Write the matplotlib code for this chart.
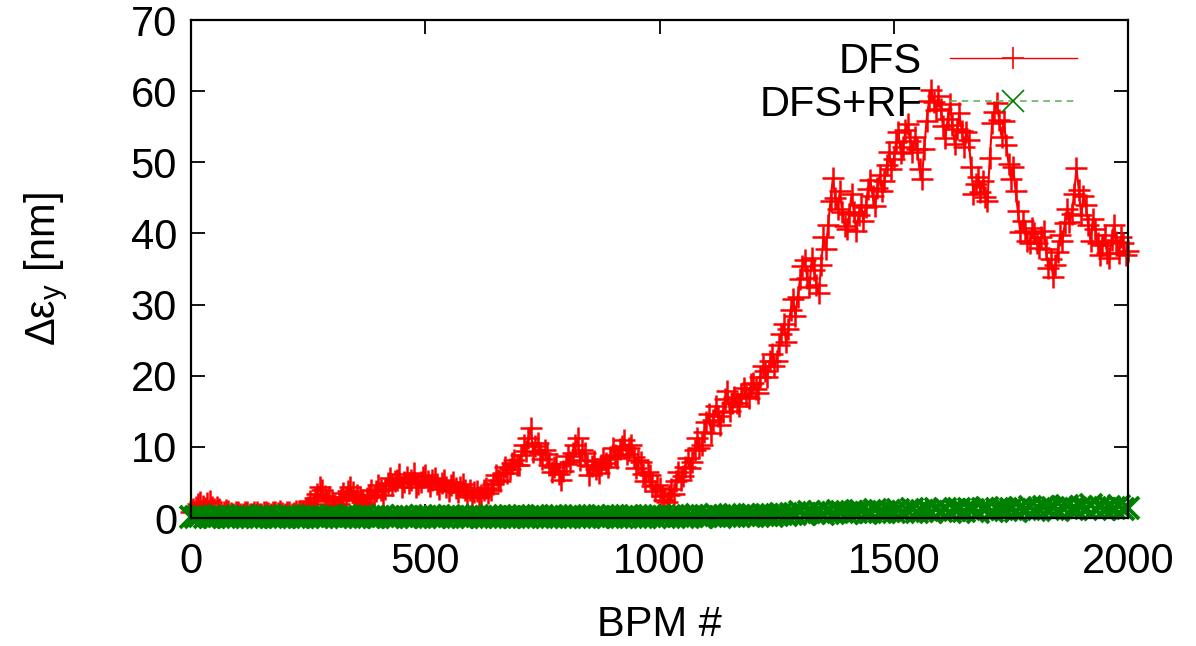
import numpy as np
import matplotlib
matplotlib.use("Agg")
import matplotlib.pyplot as plt

plt.rcParams['font.family'] = ['Liberation Sans', 'DejaVu Sans']
plt.rcParams['mathtext.fontset'] = 'custom'
plt.rcParams['mathtext.rm'] = 'Liberation Sans'
plt.rcParams['mathtext.it'] = 'Liberation Sans:italic'

# BPM index for DFS (every 5th BPM) and DFS+RF (every 10th BPM)
bpm_dfs = np.arange(0, 2001, 5)
bpm_rf = np.arange(0, 2001, 10)

dfs = [
    0.8, 1.2, 1.5, 2.0, 2.3, 1.7, 1.4, 2.1, 2.4, 1.6, 1.2, 1.5, 1.3, 0.9, 0.8, 1.1, 1.0, 0.7, 0.6, 0.9,
    0.8, 0.6, 0.5, 0.8, 0.9, 0.6, 0.6, 0.9, 0.8, 0.6, 0.5, 0.8, 0.9, 0.7, 0.6, 0.9, 0.8, 0.7, 1.0, 0.7,
    0.6, 0.8, 0.9, 0.6, 0.7, 1.0, 1.0, 0.7, 0.8, 1.2, 1.6, 2.4, 1.9, 2.8, 3.4, 4.3, 4.0, 3.1, 2.6, 3.0,
    2.4, 1.8, 1.3, 2.0, 2.7, 3.5, 2.9, 3.8, 4.4, 3.6, 2.6, 3.3, 2.9, 2.2, 1.9, 2.8, 3.3, 4.0, 3.0, 3.8,
    4.6, 3.9, 3.2, 4.1, 4.9, 5.6, 4.6, 5.2, 5.4, 6.2, 4.3, 5.1, 5.8, 4.9, 5.4, 6.3, 4.3, 4.8, 5.0, 5.7,
    6.0, 5.2, 4.5, 5.3, 5.6, 4.8, 4.1, 4.9, 5.4, 4.4, 3.8, 4.6, 5.1, 4.2, 3.6, 4.3, 4.8, 3.9, 3.3, 3.9,
    3.0, 3.6, 3.8, 2.9, 3.3, 4.0, 4.2, 3.5, 3.9, 4.8, 6.0, 5.4, 5.2, 6.3, 7.2, 6.3, 6.9, 7.8, 8.2, 7.4,
    7.5, 8.8, 10.2, 9.4, 11.3, 12.6, 9.3, 10.1, 10.6, 9.2, 8.3, 9.6, 9.0, 7.5, 6.4, 7.2, 7.6, 6.2, 5.4, 6.6,
    7.6, 8.7, 7.9, 9.1, 10.3, 11.2, 8.2, 9.6, 9.2, 7.4, 6.0, 7.3, 8.0, 6.9, 6.3, 7.5, 8.3, 7.8, 7.2, 8.6,
    9.8, 8.9, 8.5, 9.7, 10.1, 11.0, 9.0, 9.8, 10.3, 8.6, 7.0, 8.1, 7.9, 6.2, 5.2, 6.4, 6.0, 4.5, 3.8, 4.6,
    4.2, 3.1, 2.5, 2.2, 3.2, 4.1, 3.4, 5.2, 6.4, 5.4, 5.9, 7.1, 8.4, 7.0, 7.9, 9.5, 11.2, 9.8, 10.3, 12.1,
    13.5, 14.6, 12.0, 13.8, 15.8, 14.3, 13.1, 14.9, 16.7, 17.8, 15.0, 16.2, 17.0, 16.1, 15.7, 17.4, 18.3, 17.1, 16.9, 18.9,
    19.0, 18.2, 17.6, 19.8, 21.3, 20.6, 19.8, 22.0, 23.1, 21.4, 22.0, 24.3, 25.8, 27.2, 24.8, 26.6, 29.3, 30.8, 28.4, 31.1,
    33.6, 35.4, 36.2, 33.8, 32.4, 36.5, 34.9, 32.8, 31.6, 35.6, 39.5, 37.8, 41.2, 44.6, 47.8, 45.0, 43.5, 45.9, 43.0, 41.1,
    40.6, 42.8, 45.5, 43.0, 40.3, 42.6, 44.0, 41.8, 43.7, 46.3, 47.5, 45.2, 43.8, 46.4, 48.2, 45.9, 47.3, 49.6, 51.4, 49.1,
    50.5, 52.8, 54.2, 51.3, 52.1, 54.6, 55.4, 53.0, 51.4, 53.5, 51.8, 49.0, 47.6, 51.9, 55.8, 58.6, 60.2, 58.5, 57.4, 59.3,
    57.5, 55.1, 53.4, 56.1, 58.2, 55.3, 52.6, 54.7, 56.9, 54.4, 52.2, 54.3, 53.1, 49.4, 45.6, 46.9, 48.0, 45.8, 47.4, 45.1,
    44.5, 50.6, 55.5, 57.1, 58.4, 55.9, 53.6, 55.8, 52.5, 49.8, 47.6, 49.3, 46.0, 43.1, 40.2, 41.8, 40.3, 38.9, 38.6, 40.7,
    40.0, 38.6, 37.9, 39.5, 40.3, 37.8, 35.2, 36.4, 33.9, 35.6, 37.4, 39.8, 39.0, 41.4, 43.5, 41.6, 42.8, 45.6, 49.2, 46.1,
    42.6, 45.3, 44.0, 41.2, 38.9, 42.0, 40.6, 38.7, 37.0, 38.4, 39.8, 37.2, 36.5, 39.1, 41.2, 38.8, 37.3, 39.5, 38.6, 36.9,
    37.6,
]

dfs_rf = [
    0.2, 0.1, 0.3, 0.2, 0.1, 0.2, 0.3, 0.2, 0.1, 0.2, 0.2, 0.3, 0.1, 0.2, 0.2, 0.1, 0.3, 0.2, 0.2, 0.1, 0.2, 0.3, 0.2, 0.1, 0.2,
    0.2, 0.3, 0.2, 0.1, 0.2, 0.3, 0.2, 0.2, 0.1, 0.3, 0.2, 0.2, 0.3, 0.1, 0.2, 0.2, 0.3, 0.2, 0.1, 0.2, 0.3, 0.2, 0.2, 0.1, 0.3,
    0.2, 0.3, 0.2, 0.2, 0.1, 0.3, 0.2, 0.3, 0.2, 0.1, 0.2, 0.3, 0.2, 0.2, 0.3, 0.1, 0.2, 0.3, 0.2, 0.2, 0.3, 0.2, 0.1, 0.3, 0.2,
    0.3, 0.2, 0.2, 0.3, 0.1, 0.2, 0.3, 0.2, 0.3, 0.2, 0.2, 0.3, 0.1, 0.3, 0.2, 0.3, 0.2, 0.2, 0.3, 0.2, 0.3, 0.2, 0.1, 0.3, 0.2,
    0.3, 0.2, 0.3, 0.2, 0.3, 0.3, 0.2, 0.3, 0.4, 0.2, 0.3, 0.3, 0.4, 0.2, 0.3, 0.4, 0.3, 0.3, 0.4, 0.3, 0.4, 0.3, 0.4, 0.4, 0.3,
    0.4, 0.5, 0.4, 0.5, 0.6, 0.8, 0.6, 0.9, 0.7, 0.8, 0.6, 0.9, 0.7, 1.0, 0.8, 0.7, 0.9, 0.8, 1.0, 0.7, 0.9, 1.1, 0.8, 0.9, 1.0,
    0.8, 1.1, 0.9, 1.0, 1.2, 0.8, 1.0, 1.1, 0.9, 1.2, 1.0, 1.3, 0.9, 1.1, 1.2, 1.0, 1.3, 1.1, 0.9, 1.2, 1.4, 1.0, 1.2, 1.3, 1.1,
    1.3, 1.0, 1.4, 1.2, 1.5, 1.1, 1.3, 1.6, 1.2, 1.4, 1.1, 1.5, 1.7, 1.3, 1.2, 1.6, 1.4, 1.8, 1.3, 1.5, 1.2, 1.6, 1.4, 1.7, 1.3,
    1.4,
]

series_labels = ['DFS', 'DFS+RF']
xticks = [0, 500, 1000, 1500, 2000]
yticks = [0, 10, 20, 30, 40, 50, 60, 70]

fig = plt.figure(figsize=(11.96, 6.46), dpi=100)
ax = fig.add_axes([191/1196, 128/646, 937/1196, 498/646])

ax.plot(bpm_dfs, dfs, color='red', lw=1.5, marker='+', markersize=16,
        markeredgewidth=1.8, clip_on=False, label=series_labels[0], zorder=2)
ax.plot(bpm_rf, dfs_rf, color='#66b366', lw=1.2, ls=(0, (4, 3)), marker='x',
        markersize=16, markeredgewidth=2.8, markeredgecolor='#008000',
        clip_on=False, label=series_labels[1], zorder=2.1)

ax.set_xlim(0, 2000)
ax.set_ylim(0, 70)
ax.set_xticks(xticks)
ax.set_yticks(yticks)
ax.tick_params(direction='in', length=10, width=1.3, top=True, right=True,
               labelsize=30)
ax.tick_params(axis='x', pad=17)
ax.tick_params(axis='y', pad=10)
for s in ax.spines.values():
    s.set_linewidth(1.6)
    s.set_zorder(3)

ax.set_xlabel('BPM #', fontsize=30, labelpad=17)
ax.set_ylabel('Δε$_\\mathregular{y}$ [nm]', fontsize=30, labelpad=44)

leg = ax.legend(loc='upper right', bbox_to_anchor=(0.9456, 0.956),
                frameon=False, markerfirst=False, fontsize=30,
                handlelength=3.05, handletextpad=0.67, borderpad=0,
                borderaxespad=0, labelspacing=0.07)
leg.legend_handles[0].set_markeredgewidth(1.2)
leg.legend_handles[0].set_linewidth(1.0)
leg.legend_handles[1].set_markeredgewidth(1.2)
for col in leg._legend_handle_box.get_children():
    col.align = 'right'

fig.savefig('out.png', dpi=100)
